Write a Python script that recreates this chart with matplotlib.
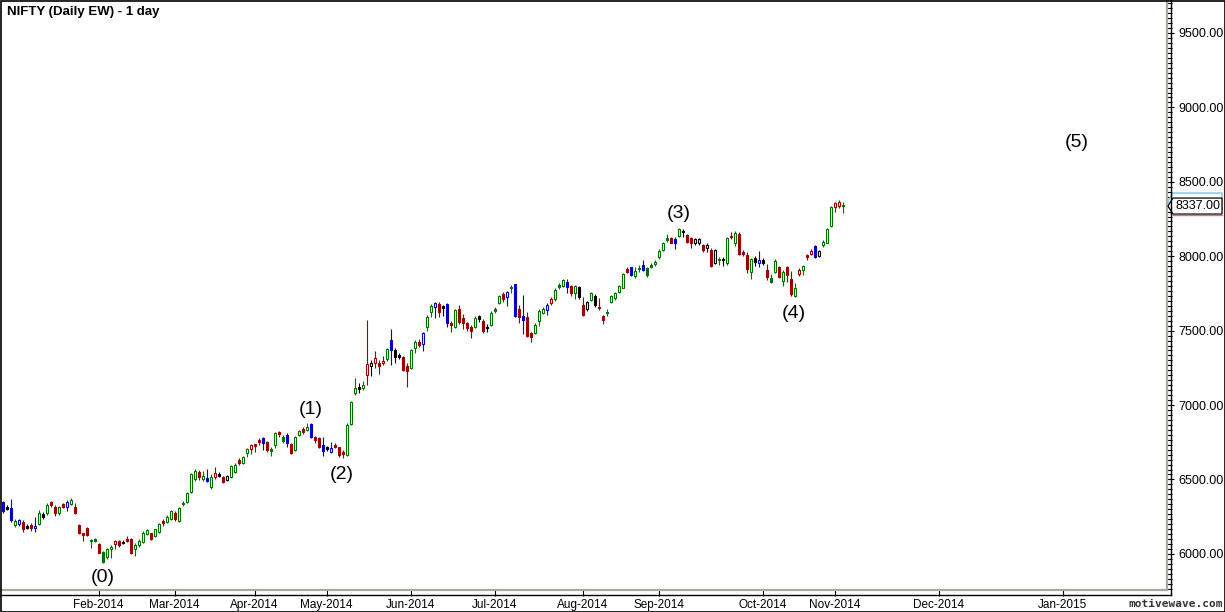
import numpy as np
import matplotlib
matplotlib.use("Agg")
import matplotlib.pyplot as plt
import matplotlib.transforms as mtransforms
from matplotlib.lines import Line2D
from matplotlib.patches import Polygon, Rectangle
from matplotlib.ticker import MultipleLocator, FixedLocator, AutoMinorLocator

plt.rcParams['font.family'] = ['Liberation Sans', 'DejaVu Sans']

# NIFTY daily bars, Dec-2013 .. 7-Nov-2014
opens = [6351, 6313, 6310, 6194, 6201, 6216, 6190, 6194, 6176, 6201,
         6268, 6272, 6349, 6317, 6272, 6333, 6317, 6335, 6313, 6194,
         6138, 6176, 6093, 6102, 6066, 6012, 5977, 6030, 6066, 6086,
         6082, 6102, 6102, 6030, 6060, 6080, 6134, 6138, 6120, 6149,
         6221, 6214, 6236, 6277, 6223, 6344, 6349, 6418, 6501, 6550,
         6500, 6507, 6447, 6518, 6534, 6518, 6496, 6518, 6552, 6630,
         6612, 6675, 6704, 6736, 6765, 6780, 6754, 6704, 6731, 6816,
         6783, 6798, 6738, 6698, 6798, 6836, 6832, 6870, 6783, 6776,
         6731, 6716, 6686, 6729, 6716, 6682, 6664, 6872, 7083, 7124,
         7117, 7202, 7265, 7280, 7285, 7280, 7307, 7437, 7370, 7336,
         7321, 7262, 7247, 7381, 7426, 7408, 7527, 7628, 7661, 7679,
         7666, 7679, 7549, 7527, 7643, 7583, 7549, 7527, 7522, 7598,
         7567, 7527, 7538, 7643, 7683, 7746, 7723, 7795, 7813, 7643,
         7598, 7589, 7481, 7486, 7566, 7616, 7638, 7687, 7710, 7804,
         7799, 7829, 7799, 7750, 7795, 7672, 7643, 7705, 7732, 7661,
         7598, 7625, 7692, 7717, 7762, 7788, 7912, 7925, 7867, 7923,
         7939, 7918, 7941, 7945, 7992, 8042, 8120, 8120, 8113, 8136,
         8172, 8142, 8125, 8091, 8091, 8075, 8057, 8042, 7952, 7981,
         7981, 7952, 8138, 8091, 8149, 8026, 8008, 7894, 7990, 7952,
         7972, 7907, 7851, 7894, 7925, 7836, 7930, 7845, 7733, 7880,
         7907, 8008, 8015, 8069, 8001, 8075, 8091, 8203, 8329, 8337,
         8344]
highs = [6358, 6326, 6369, 6232, 6237, 6228, 6201, 6205, 6250, 6295,
         6284, 6340, 6358, 6328, 6322, 6344, 6362, 6373, 6340, 6201,
         6142, 6183, 6098, 6107, 6075, 6022, 6042, 6057, 6093, 6093,
         6093, 6120, 6109, 6071, 6098, 6151, 6169, 6142, 6169, 6210,
         6232, 6259, 6295, 6290, 6317, 6358, 6418, 6546, 6568, 6564,
         6556, 6568, 6534, 6581, 6550, 6523, 6530, 6597, 6608, 6641,
         6657, 6713, 6738, 6738, 6776, 6787, 6758, 6720, 6821, 6825,
         6798, 6810, 6742, 6792, 6832, 6850, 6877, 6881, 6792, 6783,
         6787, 6725, 6749, 6747, 6720, 6698, 6877, 7027, 7184, 7146,
         7164, 7572, 7303, 7365, 7303, 7330, 7386, 7509, 7386, 7352,
         7330, 7280, 7377, 7437, 7442, 7493, 7605, 7679, 7695, 7695,
         7672, 7688, 7567, 7643, 7672, 7612, 7560, 7538, 7598, 7605,
         7576, 7545, 7634, 7661, 7739, 7761, 7768, 7806, 7813, 7672,
         7739, 7627, 7493, 7549, 7643, 7656, 7687, 7723, 7784, 7817,
         7844, 7844, 7806, 7806, 7799, 7723, 7701, 7761, 7746, 7717,
         7605, 7643, 7739, 7761, 7806, 7884, 7925, 7930, 7930, 7939,
         7975, 7925, 7952, 7975, 8046, 8098, 8149, 8127, 8131, 8192,
         8185, 8147, 8131, 8122, 8120, 8082, 8086, 8053, 8048, 7992,
         7996, 8131, 8165, 8172, 8165, 8042, 8026, 7988, 8001, 8037,
         7986, 7948, 7881, 7979, 7934, 7907, 7934, 7901, 7822, 7919,
         7941, 8015, 8046, 8075, 8042, 8109, 8192, 8338, 8367, 8378,
         8367]
lows = [6277, 6295, 6216, 6178, 6187, 6149, 6169, 6156, 6145, 6192,
        6237, 6263, 6313, 6254, 6263, 6306, 6290, 6326, 6268, 6133,
        6089, 6120, 6037, 6078, 6004, 5941, 5963, 5975, 6035, 6048,
        6064, 6080, 5999, 5986, 6048, 6071, 6125, 6093, 6111, 6138,
        6187, 6205, 6228, 6223, 6216, 6322, 6340, 6411, 6492, 6496,
        6489, 6485, 6438, 6505, 6514, 6478, 6489, 6512, 6545, 6597,
        6603, 6648, 6671, 6682, 6731, 6698, 6686, 6657, 6709, 6783,
        6747, 6716, 6671, 6689, 6792, 6805, 6828, 6776, 6747, 6709,
        6657, 6693, 6680, 6709, 6653, 6646, 6657, 6866, 7068, 7083,
        7101, 7135, 7195, 7247, 7209, 7269, 7298, 7269, 7280, 7307,
        7231, 7124, 7240, 7348, 7392, 7366, 7500, 7590, 7583, 7594,
        7598, 7527, 7493, 7516, 7545, 7509, 7500, 7448, 7516, 7560,
        7486, 7493, 7531, 7621, 7679, 7694, 7665, 7755, 7594, 7553,
        7477, 7454, 7425, 7477, 7531, 7609, 7605, 7672, 7701, 7777,
        7790, 7750, 7732, 7710, 7710, 7598, 7634, 7701, 7656, 7638,
        7544, 7598, 7683, 7705, 7750, 7784, 7885, 7867, 7851, 7896,
        7903, 7862, 7918, 7936, 7983, 8035, 8098, 8087, 8048, 8131,
        8131, 8087, 8057, 8075, 8075, 8030, 8030, 7930, 7945, 7941,
        7934, 7941, 8113, 8068, 8008, 8001, 7885, 7845, 7934, 7930,
        7941, 7840, 7822, 7890, 7851, 7800, 7829, 7733, 7728, 7867,
        7874, 7975, 8008, 7990, 7997, 8064, 8087, 8199, 8299, 8322,
        8293]
closes = [6290, 6304, 6228, 6223, 6228, 6167, 6176, 6172, 6187, 6277,
          6250, 6328, 6326, 6272, 6313, 6317, 6346, 6362, 6272, 6142,
          6125, 6125, 6084, 6089, 6008, 5948, 6033, 6048, 6089, 6060,
          6071, 6089, 6008, 6062, 6089, 6142, 6160, 6098, 6165, 6201,
          6210, 6250, 6286, 6232, 6310, 6333, 6411, 6537, 6559, 6519,
          6523, 6492, 6514, 6541, 6523, 6485, 6523, 6590, 6597, 6608,
          6648, 6704, 6731, 6727, 6754, 6742, 6698, 6693, 6810, 6805,
          6760, 6742, 6680, 6783, 6828, 6821, 6850, 6787, 6765, 6720,
          6693, 6702, 6713, 6720, 6664, 6671, 6866, 7020, 7114, 7108,
          7135, 7276, 7285, 7314, 7262, 7296, 7374, 7370, 7325, 7325,
          7236, 7231, 7370, 7426, 7404, 7486, 7594, 7666, 7688, 7628,
          7650, 7549, 7536, 7639, 7560, 7549, 7516, 7500, 7583, 7576,
          7500, 7516, 7621, 7634, 7732, 7710, 7761, 7784, 7598, 7589,
          7571, 7463, 7459, 7537, 7634, 7643, 7672, 7710, 7773, 7795,
          7840, 7795, 7755, 7799, 7723, 7604, 7694, 7755, 7672, 7649,
          7571, 7616, 7732, 7750, 7800, 7880, 7896, 7874, 7903, 7912,
          7907, 7874, 7930, 7963, 8037, 8091, 8109, 8091, 8091, 8183,
          8163, 8098, 8091, 8116, 8113, 8042, 8075, 7934, 8042, 7974,
          7974, 8125, 8127, 8158, 8015, 8015, 7916, 7979, 7963, 7975,
          7952, 7858, 7829, 7968, 7863, 7896, 7874, 7746, 7784, 7907,
          7934, 7997, 8037, 7997, 8037, 8098, 8181, 8333, 8355, 8362,
          8337]
# g = green, r = red, b = blue, k = black
bar_colors = ("bkbgbrkrbg" "kgrrgrbgrr" "rrggrgggrr" "krrggggrgg" "rggrgggggr"
              "gbgrkrkggr" "ggrrrbrggr" "gbrggrgbrr" "bkbrrrgggk" "grkrrrgbkk"
              "rrggrbggbr" "kbrgrrrrgk" "rkgggrbgbr" "brrgggbrgg" "gbrgkrkgkr"
              "rgggggrbgg" "bggggggrbg" "krrkkrkrkg" "kgrgrrrgkb" "krggrgrrgr"
              "grrbkgggrrg")

month_pos = [24, 43, 63, 81, 102, 123, 145, 164, 190, 208, 234, 265]
month_labels = ['Feb-2014', 'Mar-2014', 'Apr-2014', 'May-2014', 'Jun-2014', 'Jul-2014',
                'Aug-2014', 'Sep-2014', 'Oct-2014', 'Nov-2014', 'Dec-2014', 'Jan-2015']

wave_labels = ['(0)', '(1)', '(2)', '(3)', '(4)', '(5)']
wave_x = [25.1, 76.9, 84.8, 168.9, 197.9, 268.6]
wave_y = [5838, 6971, 6530, 8288, 7612, 8767]

palette = {'g': '#006f00', 'r': '#9a0000', 'b': '#0000c8', 'k': '#000000'}

n = len(closes)
assert len(opens) == len(highs) == len(lows) == n == len(bar_colors)

W, H = 1225, 612
fig = plt.figure(figsize=(W / 100, H / 100), dpi=100)
fig.patch.set_facecolor('white')
ax = fig.add_axes([1 / W, 22 / H, 1166 / W, 589 / H])
ax.set_xlim(-0.425, 291.075)
ax.set_ylim(5757, 9715)

x = np.arange(n)
o = np.array(opens)
c = np.array(closes)
cols = [palette[ch] for ch in bar_colors]
faces = [col if cc < oo else 'white' for col, oo, cc in zip(cols, o, c)]

ax.vlines(x, lows, highs, colors=cols, linewidth=0.8, zorder=2)
ax.bar(x, np.abs(c - o), bottom=np.minimum(o, c), width=0.55,
       color=faces, edgecolor=cols, linewidth=0.8, zorder=3)

for lab, wx, wy in zip(wave_labels, wave_x, wave_y):
    ax.text(wx, wy, lab, fontsize=14, ha='center', va='center', color='black')

# axes styling
for s in ['left', 'top']:
    ax.spines[s].set_visible(False)
for s in ['right', 'bottom']:
    ax.spines[s].set_color('#a8a89c')
    ax.spines[s].set_linewidth(1.6)

ax.yaxis.tick_right()
ax.yaxis.set_major_locator(MultipleLocator(500))
ax.yaxis.set_minor_locator(AutoMinorLocator(15))
ax.yaxis.set_major_formatter(lambda v, p: f'{v:.2f}')
ax.tick_params(axis='y', which='major', direction='out', length=5, width=0.8,
               labelsize=9, pad=3, colors='black')
ax.tick_params(axis='y', which='minor', direction='out', length=3.5, width=0.8, colors='black')

ax.xaxis.set_major_locator(FixedLocator(month_pos))
ax.set_xticklabels(month_labels)
ax.tick_params(axis='x', which='major', direction='out', length=4, width=0.8,
               labelsize=8.5, pad=2.5, colors='black')

# frame lines in pixel coordinates
ident = mtransforms.IdentityTransform()
fig.add_artist(Line2D([0, 1171], [17, 17], color='black', lw=1, transform=ident))
fig.add_artist(Line2D([1171, 1171], [17, H], color='black', lw=1, transform=ident))
fig.add_artist(Rectangle((0.5, 0.5), W - 1, H - 1, fill=False, edgecolor='black',
                         lw=1.2, transform=ident))

fig.text(7, H - 12, 'NIFTY (Daily EW) - 1 day', fontsize=9.5, fontweight='bold',
         ha='left', va='center', transform=ident)
fig.text(1176, H - 604, 'motivewave.com', fontsize=8, fontweight='bold',
         family='DejaVu Sans Mono', color='#333333', ha='center', va='center',
         transform=ident)

# last price tag
fig.canvas.draw()
last = closes[-1]
ypix = ax.transData.transform((0, last))[1]
xr = ax.transAxes.transform((1, 0))[0]
back = Polygon([(xr + 1, ypix + 5), (xr + 6, ypix + 13), (xr + 55, ypix + 13),
                (xr + 55, ypix - 3), (xr + 6, ypix - 3)], closed=True,
               facecolor='white', edgecolor='#9cc8e4', lw=1.2, transform=ident)
fig.add_artist(back)
tag = Polygon([(xr + 1, ypix), (xr + 6, ypix + 8), (xr + 55, ypix + 8),
               (xr + 55, ypix - 8), (xr + 6, ypix - 8)], closed=True,
              facecolor='white', edgecolor='black', lw=0.9, transform=ident)
fig.add_artist(tag)
fig.add_artist(Line2D([xr + 6, xr + 55], [ypix - 9, ypix - 9], color='#c08080', lw=1,
                      transform=ident))
fig.text(xr + 8, ypix, f'{last:.2f}', fontsize=9, ha='left', va='center', transform=ident)

fig.savefig('out.png', dpi=100)
